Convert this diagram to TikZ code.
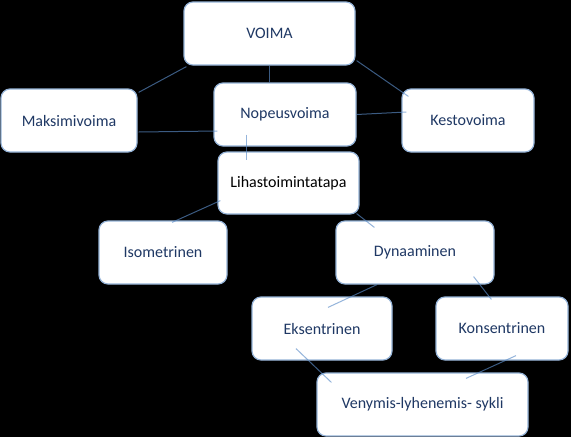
\documentclass[tikz,border=0pt]{standalone}
\usepackage{fontspec}
\setmainfont{Carlito}
\usepackage{tikz}
\usetikzlibrary{positioning,calc}
\usepackage{xcolor}
\definecolor{boxline}{HTML}{95B3D7}
\definecolor{navy}{HTML}{1F3864}
\definecolor{linkblue}{HTML}{5B8CC8}

\begin{document}
\begin{tikzpicture}[
    x=1pt, y=-1pt,
    box/.style={draw=boxline, line width=1.2pt, fill=white, rounded corners=9pt, minimum height=63pt, align=center, text=navy, font=\fontsize{16}{19}\selectfont, inner sep=0pt},
    link/.style={draw=linkblue, line width=1pt, opacity=0.65}
]

% background
\fill[black] (0,0) rectangle (571,437);
\useasboundingbox (0,0) rectangle (571,437);

% Top
\node[box, minimum width=171pt] (voima) at (269.5,33.5) {VOIMA};

% Second row
\node[box, minimum width=136pt] (maksimi) at (69,120.5) {Maksimivoima};
\node[box, minimum width=142pt] (nopeus) at (285,114.5) {Nopeusvoima};
\node[box, minimum width=132pt] (kesto) at (468,120.5) {Kestovoima};

% Muscle action
\node[box, minimum width=141pt, minimum height=62pt, text=black] (lihas) at (288.5,183) {Lihastoimintatapa};
\node[box, minimum width=128pt] (iso) at (163,252.5) {Isometrinen};
\node[box, minimum width=158pt] (dyn) at (415,252.5) {Dynaaminen};

% Dynamic types
\node[box, minimum width=140pt] (eks) at (322,328.5) {Eksentrinen};
\node[box, minimum width=132pt] (kons) at (502,328.5) {Konsentrinen};
\node[box, minimum width=211pt] (veny) at (422.5,404.5) {Venymis-lyhenemis- sykli};

% Connectors
\draw[link] ([xshift=3pt,yshift=-1pt]voima.south west) -- ([xshift=1pt,yshift=-4pt]maksimi.north east);
\draw[link] (voima.south) -- (voima.south |- nopeus.north);
\draw[link] ([xshift=1pt,yshift=5pt]voima.south east) -- ([xshift=7pt,yshift=-8pt]kesto.north west);
\draw[link] ([xshift=1pt,yshift=-11.5pt]maksimi.east) -- ([xshift=4pt,yshift=-16.5pt]nopeus.west);
\draw[link] (nopeus.east) -- ([xshift=5pt,yshift=8.5pt]kesto.west);
\draw[link] ([xshift=-39pt,yshift=12pt]nopeus.south) -- ([xshift=-42.5pt,yshift=-9pt]lihas.north);
\draw[link] ([xshift=3pt,yshift=14pt]lihas.south west) -- ([xshift=9pt,yshift=-2pt]iso.north);
\draw[link] ([xshift=-3pt,yshift=1pt]lihas.south east) -- ([xshift=39pt,yshift=-7pt]dyn.north west);
\draw[link] ([xshift=-38pt]dyn.south) -- ([xshift=6pt,yshift=-11pt]eks.north);
\draw[link] ([xshift=-21pt,yshift=8pt]dyn.south east) -- ([xshift=56pt,yshift=-3pt]kons.north west);
\draw[link] ([xshift=-26pt,yshift=12pt]eks.south) -- ([xshift=15pt,yshift=-10pt]veny.north west);
\draw[link] ([xshift=14pt,yshift=5pt]kons.south) -- ([xshift=43.5pt,yshift=-6pt]veny.north);

\end{tikzpicture}
\end{document}
